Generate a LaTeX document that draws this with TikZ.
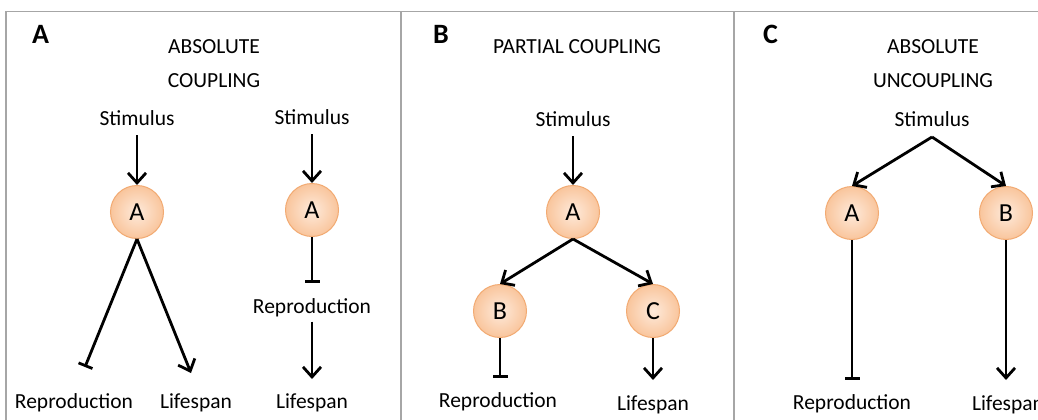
\documentclass[tikz,border=0pt]{standalone}
\usepackage{fontspec}
\setmainfont{Carlito}
\usetikzlibrary{arrows.meta}
\definecolor{framegray}{HTML}{A6A6A6}
\definecolor{nodeedge}{HTML}{F2AA72}
\definecolor{nodein}{HTML}{FEEADB}
\definecolor{nodeout}{HTML}{F9C59C}
\begin{document}
\begin{tikzpicture}[x=1pt,y=-1pt,
  lbl/.style={font=\fontsize{21.5}{25}\selectfont, inner sep=0pt, anchor=base},
  panel/.style={font=\bfseries\fontsize{28}{32}\selectfont, inner sep=0pt, anchor=base west},
  gene/.style={circle, draw=nodeedge, line width=1pt, inner color=nodein, outer color=nodeout,
    minimum size=53pt, inner sep=0pt, font=\fontsize{26}{30}\selectfont},
  act/.style={-{Straight Barb[length=10pt,width=18pt]}, line width=2.8pt},
  inh/.style={-{Bar[width=15pt]}, line width=2.8pt},
  frameline/.style={draw=framegray, line width=1.5pt}]
\useasboundingbox (0,0) rectangle (1038,420);
\fill[white] (0,0) rectangle (1038,420);
% frame
\draw[frameline] (6,420) -- (6,11.5) -- (1038,11.5);
\draw[frameline] (401,11.5) -- (401,420);
\draw[frameline] (734,11.5) -- (734,420);

% ---------- Panel A ----------
\node[panel] (labA) at (32,44) {A};
\node[lbl] (tA1) at (214,53) {ABSOLUTE};
\node[lbl] (tA2) at (214,88) {COUPLING};
\node[lbl] (stim1) at (137,125) {Stimulus};
\node[gene] (a1) at (137,212) {A};
\node[lbl] (rep1) at (74,408) {Reproduction};
\node[lbl] (life1) at (196,408) {Lifespan};
\coordinate (r1end) at (85,367);
\coordinate (l1end) at (191,373);
\draw[act, shorten <=10pt] (stim1.south) -- (a1.north);
\draw[inh] (a1.south) -- (r1end);
\draw[act] (a1.south) -- (l1end);

\node[lbl] (stim2) at (312,124) {Stimulus};
\node[gene] (a2) at (312,210) {A};
\node[lbl] (rep2) at (312,313) {Reproduction};
\node[lbl] (life2) at (312,408) {Lifespan};
\coordinate (r2end) at (312,283);
\draw[act, shorten <=10pt] (stim2.south) -- (a2.north);
\draw[inh] (a2.south) -- (r2end);
\draw[act, shorten <=5pt, shorten >=14pt] (rep2.south) -- (life2.north);

% ---------- Panel B ----------
\node[panel] (labB) at (433,44) {B};
\node[lbl] (tB) at (577,53) {PARTIAL COUPLING};
\node[lbl] (stimB) at (573,126) {Stimulus};
\node[gene] (aB) at (573,212) {A};
\node[gene] (bB) at (500,311) {B};
\node[gene] (cB) at (653,311) {C};
\node[lbl] (repB) at (498,407) {Reproduction};
\node[lbl] (lifeB) at (653,410) {Lifespan};
\coordinate (rBend) at (500,378);
\coordinate (lBend) at (653,380);
\draw[act, shorten <=10pt] (stimB.south) -- (aB.north);
\draw[act] (aB.south) -- (bB.north);
\draw[act] (aB.south) -- (cB.north);
\draw[inh] (bB.south) -- (rBend);
\draw[act] (cB.south) -- (lBend);

% ---------- Panel C ----------
\node[panel] (labC) at (763,44) {C};
\node[lbl] (tC1) at (933,53) {ABSOLUTE};
\node[lbl] (tC2) at (933,88) {UNCOUPLING};
\node[lbl] (stimC) at (932,126) {Stimulus};
\coordinate (apexC) at (932,137);
\node[gene] (cA) at (852,213) {A};
\node[gene] (cBn) at (1006,213) {B};
\node[lbl] (repC) at (852,409) {Reproduction};
\node[lbl] (lifeC) at (1008,410) {Lifespan};
\coordinate (rCend) at (852,380);
\coordinate (lCend) at (1006,380);
\draw[act] (apexC) -- (cA.north);
\draw[act] (apexC) -- (cBn.north);
\draw[inh] (cA.south) -- (rCend);
\draw[act] (cBn.south) -- (lCend);
\end{tikzpicture}
\end{document}
